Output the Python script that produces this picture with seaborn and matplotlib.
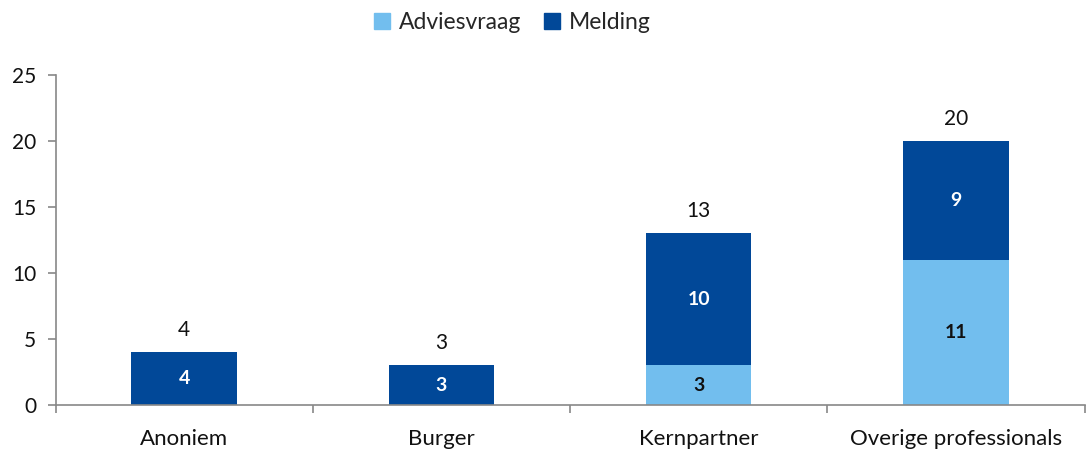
import pandas as pd
import matplotlib
matplotlib.use('Agg')
import matplotlib.pyplot as plt
import seaborn as sns
from matplotlib.patches import Patch

# Data
categories = ['Anoniem', 'Burger', 'Kernpartner', 'Overige professionals']
adviesvraag = [0, 0, 3, 11]
melding = [4, 3, 10, 9]
totals = [a + m for a, m in zip(adviesvraag, melding)]

df = pd.DataFrame({'cat': categories, 'advies': adviesvraag,
                   'melding': melding, 'total': totals})

light = '#72BEEE'
dark = '#014898'

sns.set_style('white')
plt.rcParams['font.family'] = ['Lato', 'DejaVu Sans']

fig, ax = plt.subplots(figsize=(10.9, 4.5), dpi=100)
fig.subplots_adjust(left=0.051, right=0.995, top=0.833, bottom=0.1)

# stacked: draw totals in dark, then adviesvraag on top in light
sns.barplot(data=df, x='cat', y='total', color=dark, width=0.41,
            saturation=1, linewidth=0, ax=ax)
sns.barplot(data=df, x='cat', y='advies', color=light, width=0.41,
            saturation=1, linewidth=0, ax=ax)

for i in range(len(categories)):
    a, m, t = adviesvraag[i], melding[i], totals[i]
    if a > 0:
        ax.text(i, a / 2, str(a), ha='center', va='center', fontsize=14,
                fontweight='bold', color='#111111')
    if m > 0:
        ax.text(i, a + m / 2, str(m), ha='center', va='center', fontsize=14,
                fontweight='bold', color='white')
    ax.text(i, t + 1.7, str(t), ha='center', va='center', fontsize=15,
            color='#111111')

ax.set_xlim(-0.5, 3.5)
ax.set_ylim(0, 25)
ax.set_yticks(range(0, 26, 5))
ax.set_xlabel('')
ax.set_ylabel('')

# x ticks: labels at centers, tick marks at the category boundaries
ax.set_xticks(range(4))
ax.set_xticklabels(categories)
ax.set_xticks([-0.5, 0.5, 1.5, 2.5, 3.5], minor=True)
ax.tick_params(axis='x', which='major', length=0, labelsize=16,
               colors='#111111', pad=17)
ax.tick_params(axis='x', which='minor', length=6, width=1.2, color='#888888',
               direction='out', bottom=True)
ax.tick_params(axis='y', length=6, width=1.2, color='#888888',
               labelsize=15, labelcolor='#111111', pad=8, left=True)

sns.despine(ax=ax, top=True, right=True)
for s in ['left', 'bottom']:
    ax.spines[s].set_color('#888888')
    ax.spines[s].set_linewidth(1.2)

handles = [Patch(color=light, label='Adviesvraag'),
           Patch(color=dark, label='Melding')]
fig.legend(handles=handles, loc='upper center', bbox_to_anchor=(0.47, 1.02),
           ncol=2, frameon=False, fontsize=16.5, handlelength=0.7,
           handleheight=0.7, handletextpad=0.4, columnspacing=1.0)

plt.savefig('out.png', dpi=100)
